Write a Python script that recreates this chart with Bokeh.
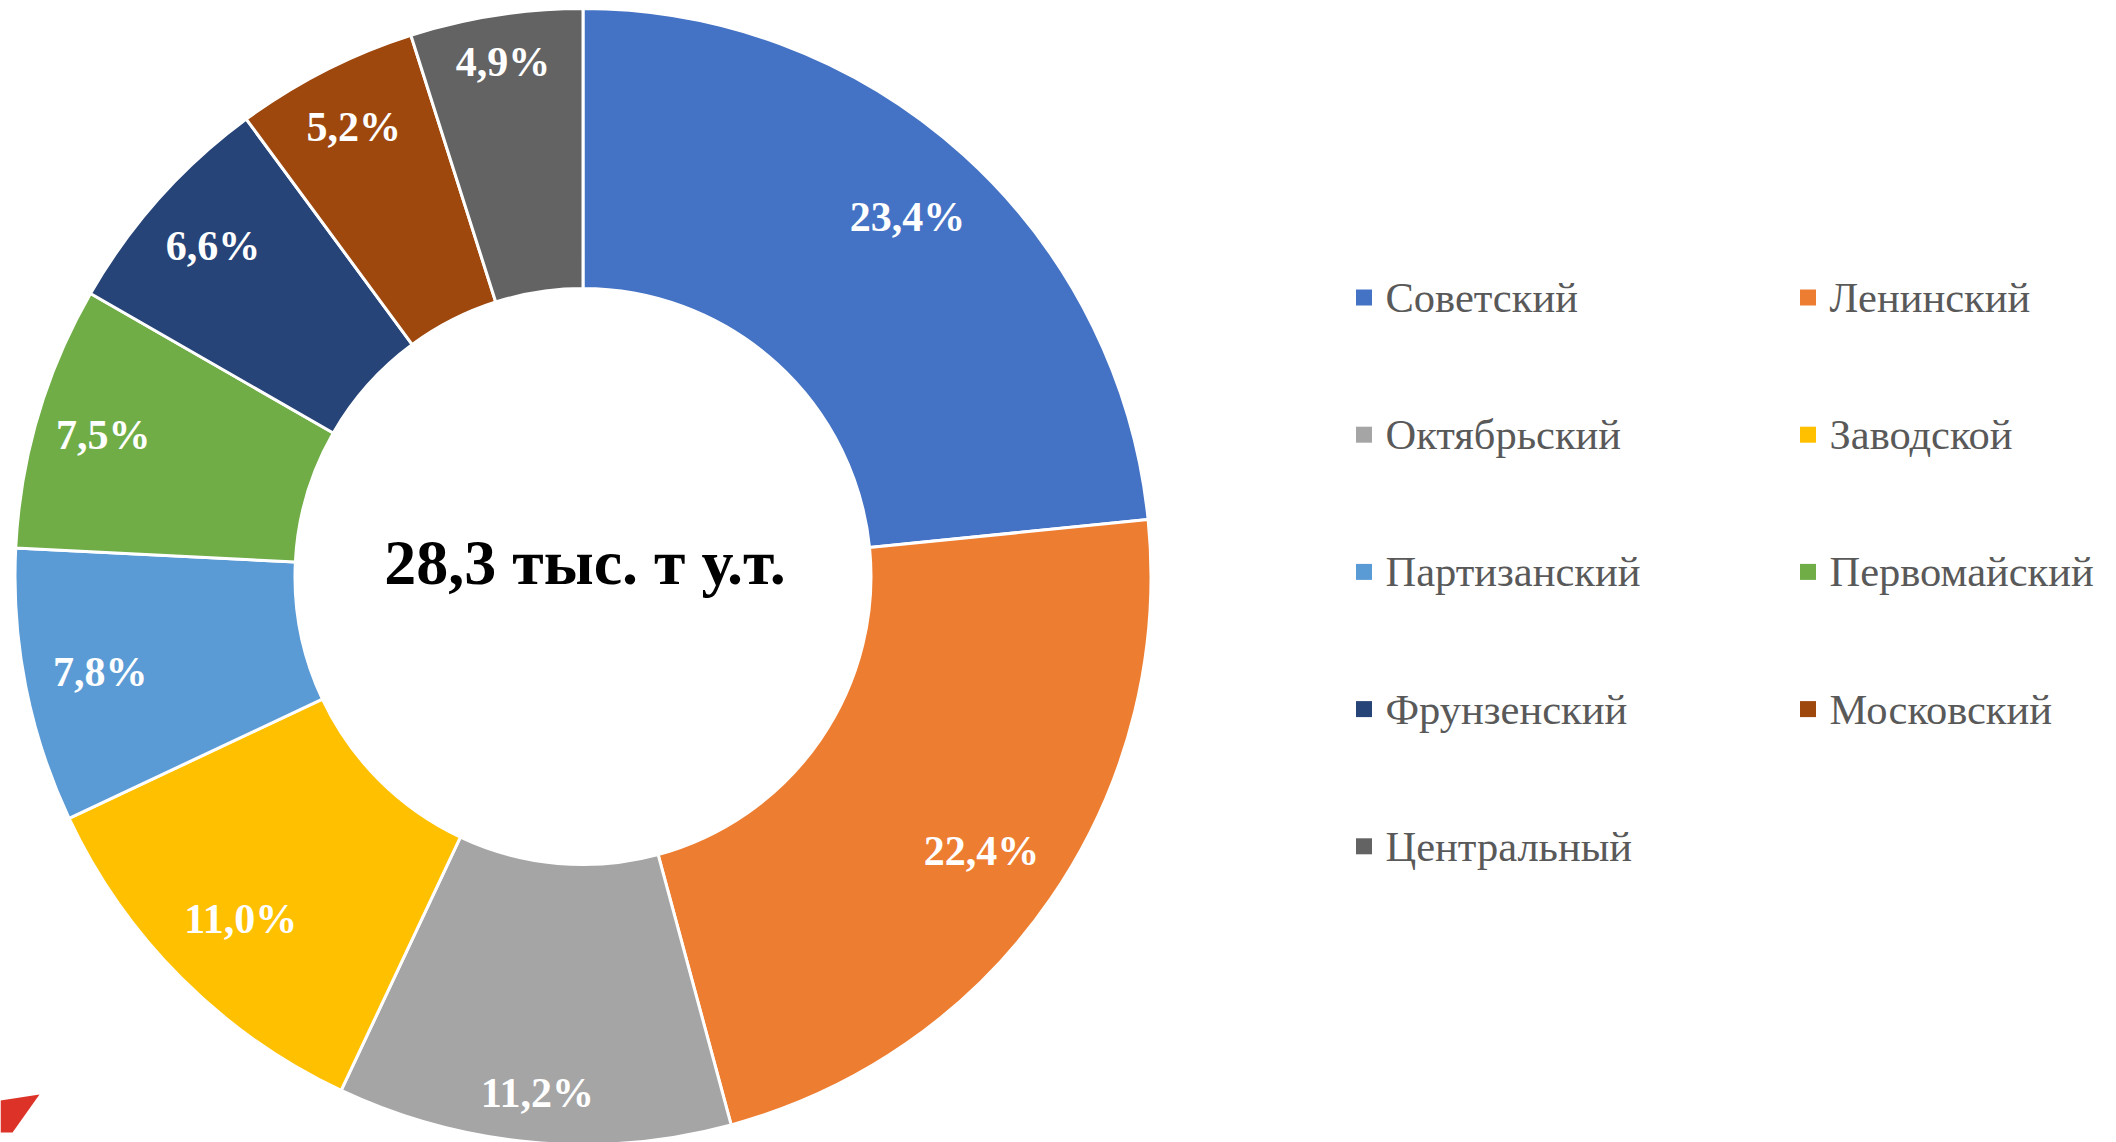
import math
from bokeh.plotting import figure
from bokeh.models import ColumnDataSource
from bokeh.core.properties import value
from bokeh.embed import file_html
from bokeh.resources import INLINE

# ---- data ----
districts = ["Советский", "Ленинский", "Октябрьский", "Заводской", "Партизанский",
             "Первомайский", "Фрунзенский", "Московский", "Центральный"]
shares = [23.4, 22.4, 11.2, 11.0, 7.8, 7.5, 6.6, 5.2, 4.9]
colors = ["#4472C4", "#ED7D31", "#A5A5A5", "#FFC000", "#5B9BD5",
          "#70AD47", "#264478", "#9E480E", "#636363"]
total_label = "28,3 тыс. т у.т."

# ---- layout (pixels) ----
W, H = 2116, 1142
cx, cy = 582.5, H - 576.0
r_out, r_in = 568.0, 288.0
# radial distance of each percentage label from the centre (layout only)
label_radius = [484, 484, 519, 484, 492, 500, 496, 505, 521]
FONT = "Liberation Serif"

p = figure(width=W, height=H, x_range=(0, W), y_range=(0, H),
           x_axis_type=None, y_axis_type=None, output_backend="svg",
           toolbar_location=None, min_border=0)
p.grid.visible = False
p.outline_line_color = None
p.background_fill_color = "white"

tot = sum(shares)
starts, ends, lx, ly, labels = [], [], [], [], []
cum = 0.0
for s, rl in zip(shares, label_radius):
    a0 = math.pi / 2 - cum / tot * 2 * math.pi
    cum += s
    a1 = math.pi / 2 - cum / tot * 2 * math.pi
    starts.append(a0)
    ends.append(a1)
    mid = (a0 + a1) / 2
    lx.append(cx + rl * math.cos(mid))
    ly.append(cy + rl * math.sin(mid))
    labels.append(f"{s:.1f}%".replace(".", ","))

src = ColumnDataSource(dict(start=starts, end=ends, color=colors,
                            lx=lx, ly=ly, label=labels))
p.annular_wedge(x=cx, y=cy, inner_radius=r_in, outer_radius=r_out,
                start_angle="start", end_angle="end", direction="clock",
                fill_color="color", line_color="white", line_width=3, source=src)

p.text(x="lx", y="ly", text="label", source=src, text_color="white",
       text_font=value(FONT), text_font_style="bold", text_font_size="42px",
       text_align="center", text_baseline="middle")

p.text(x=[584.5], y=[H - 562], text=[total_label], text_color="black",
       text_font=value(FONT), text_font_style="bold", text_font_size="64px",
       text_align="center", text_baseline="middle")

# ---- legend (2 columns) ----
col_marker = [1363.5, 1807.5]
col_text = [1385, 1829]
mx, my, tx, ty = [], [], [], []
for i, name in enumerate(districts):
    c, r = i % 2, i // 2
    yy = H - (297 + 137.2 * r)
    mx.append(col_marker[c]); my.append(yy)
    tx.append(col_text[c]); ty.append(yy)
p.rect(x=mx, y=my, width=16, height=16, fill_color=colors, line_color=None)
p.text(x=tx, y=ty, text=districts, text_color="#595959",
       text_font=value(FONT), text_font_size="42.5px",
       text_align="left", text_baseline="middle")

# decorative red corner shape
p.patch(x=[0, 39, 12, 0], y=[42, 48, 10, 10], fill_color="#DC3228", line_color=None)

open("out.html", "w").write(file_html(p, INLINE))
